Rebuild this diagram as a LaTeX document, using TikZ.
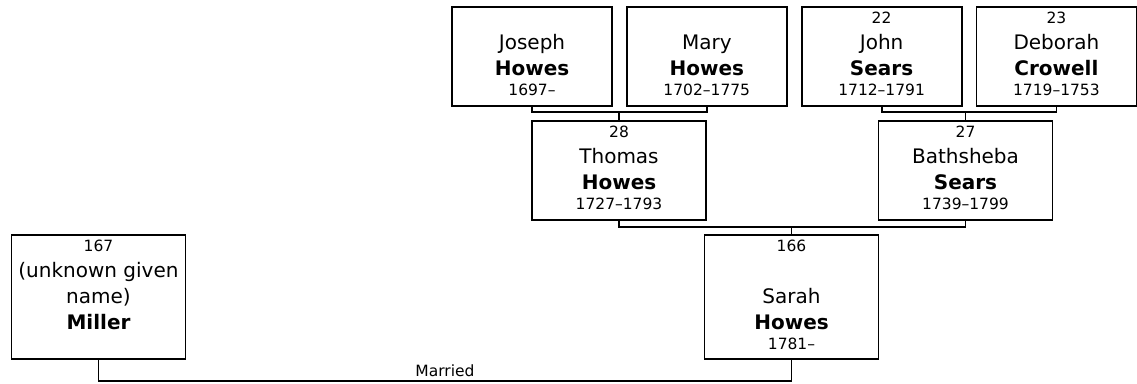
\documentclass[tikz,border=0pt]{standalone}
\usepackage{fontspec}
\setmainfont{DejaVu Sans}
\usetikzlibrary{positioning,calc}
\newcommand{\person}[6]{%
	\vbox to #2{\hsize=#1\relax\centering
		\fontsize{20}{26}\selectfont
		\lineskiplimit=-100pt \lineskip=0pt
		\vskip-10pt\prevdepth=0pt
		{\fontsize{15.5}{26}\selectfont\mbox{}#3\par}
		\mbox{}#4\par
		{\bfseries #5\par}
		{\fontsize{15.5}{20}\selectfont #6\par}
		\vss}}
\tikzset{
	card/.style={
		draw,
		line width=1.8pt,
		inner sep=0pt,
	},
	link/.style={
		line width=1.8pt,
		draw=black,
	}
}

\begin{document}
\begin{tikzpicture}[x=1pt, y=-1pt]
	\useasboundingbox (0,0) rectangle (1137,383);
	% --- Grandparents ---
	\node[card] (joseph) at (532,56.5) {\person{160pt}{99pt}{}{Joseph}{Howes}{1697–}};
	\node[card] (mary) [right=13pt of joseph] {\person{160pt}{99pt}{}{Mary}{Howes}{1702–1775}};
	\node[card] (john) [right=13pt of mary] {\person{160pt}{99pt}{22}{John}{Sears}{1712–1791}};
	\node[card] (deborah) [right=13pt of john] {\person{160pt}{99pt}{23}{Deborah}{Crowell}{1719–1753}};
	
	% --- Parents ---
	\node[card] (thomas) at (619,170.5) {\person{174pt}{99pt}{28}{Thomas}{Howes}{1727–1793}};
	\node[card] (bathsheba) at (965.5,170.5) {\person{174pt}{99pt}{27}{Bathsheba}{Sears}{1739–1799}};
	
	% --- Couple ---
	\node[card] (sarah) at (791.5,297) {\person{174pt}{124pt}{166}{\mbox{}\\Sarah}{Howes}{1781–}};
	\node[card] (miller) at (98.5,297) {\person{174pt}{124pt}{167}{\mbox{(unknown given}\\name)}{Miller}{}};
	
	% --- Links ---
	\coordinate (thomasup) at ($(thomas.north)+(0,-8)$);
	\coordinate (bathup) at ($(bathsheba.north)+(0,-8)$);
	\coordinate (sarahup) at ($(sarah.north)+(0,-7)$);
	\coordinate (wed) at ($(miller.south)+(0,21)$);
	\draw[link] (joseph.south) |- (thomasup) -| (mary.south);
	\draw[link] (thomasup) -- (thomas.north);
	\draw[link] (john.south) |- (bathup) -| (deborah.south);
	\draw[link] (bathup) -- (bathsheba.north);
	\draw[link] (thomas.south) |- (sarahup) -| (bathsheba.south);
	\draw[link] (sarahup) -- (sarah.north);
	\draw[link] (miller.south) -- (wed) -| (sarah.south)
		node[pos=0.25, above=0pt, font=\fontsize{15.5}{18}\selectfont] (married) {Married};
\end{tikzpicture}
\end{document}
